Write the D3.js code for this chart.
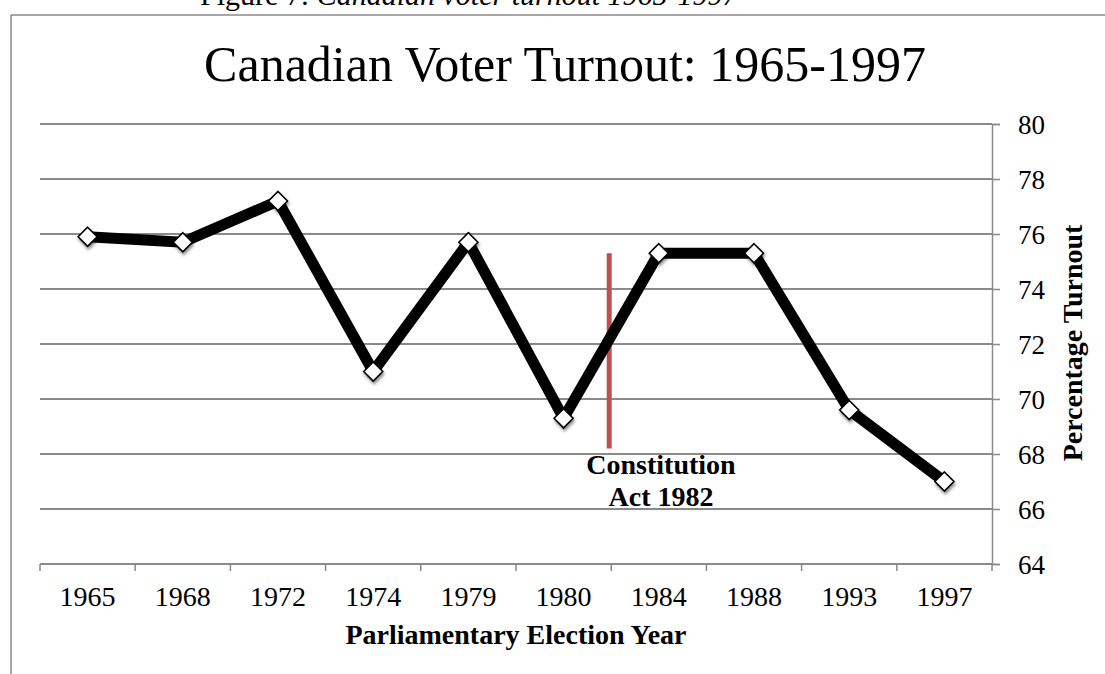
<!DOCTYPE html>
<html>
<head>
<meta charset="utf-8">
<script src="https://cdn.jsdelivr.net/npm/d3@7"></script>
<style>
  html, body { margin: 0; padding: 0; background: #fff; }
  svg { display: block; }
</style>
</head>
<body>
<svg id="chart" width="1105" height="674"></svg>
<script>
// ---- data ----
const years = ["1965", "1968", "1972", "1974", "1979", "1980", "1984", "1988", "1993", "1997"];
const turnout = [75.9, 75.7, 77.2, 71.0, 75.7, 69.3, 75.3, 75.3, 69.6, 67.0];
const yTicks = [64, 66, 68, 70, 72, 74, 76, 78, 80];
const annotationAfter = "1980";
const annotationRange = [68.2, 75.3];
const annotationLines = ["Constitution", "Act 1982"];
const chartTitle = "Canadian Voter Turnout: 1965-1997";
const xTitle = "Parliamentary Election Year";
const yTitle = "Percentage Turnout";

const svg = d3.select("#chart");
const serif = "'Liberation Serif', 'Times New Roman', serif";
const gridColor = "#8a8a8a";

const defs = svg.append("defs");
const f = defs.append("filter").attr("id", "shadow").attr("x", "-50%").attr("y", "-50%").attr("width", "200%").attr("height", "200%");
f.append("feDropShadow").attr("dx", 1).attr("dy", 2.5).attr("stdDeviation", 1.6).attr("flood-color", "#000").attr("flood-opacity", 0.45);

// frame & caption
svg.append("line").attr("x1", 11).attr("x2", 1105).attr("y1", 15).attr("y2", 15).attr("stroke", gridColor).attr("stroke-width", 1.5);
svg.append("line").attr("x1", 11).attr("x2", 11).attr("y1", 15).attr("y2", 674).attr("stroke", gridColor).attr("stroke-width", 1.5);
const cap = svg.append("text").attr("x", 200).attr("y", 5).attr("font-family", serif).attr("font-size", 30).attr("fill", "#000");
cap.append("tspan").text("Figure 7: ");
cap.append("tspan").attr("font-style", "italic").text("Canadian voter turnout 1965-1997");

// scales
const x = d3.scaleBand().domain(years).range([40, 992]).padding(0);
const y = d3.scaleLinear().domain([64, 80]).range([564, 124]);

// gridlines
svg.append("g").selectAll("line").data(yTicks).join("line")
  .attr("x1", 40).attr("x2", 992)
  .attr("y1", d => y(d)).attr("y2", d => y(d))
  .attr("stroke", gridColor).attr("stroke-width", 2);

// right axis
const yAxis = d3.axisRight(y).tickValues(yTicks).tickSize(8).tickPadding(18).tickFormat(d3.format("d"));
const gy = svg.append("g").attr("transform", "translate(992,0)").call(yAxis);
gy.select(".domain").attr("stroke", gridColor).attr("stroke-width", 1.5);
gy.selectAll(".tick line").attr("stroke", gridColor).attr("stroke-width", 1.5);
gy.selectAll(".tick text").attr("font-family", serif).attr("font-size", 27).attr("fill", "#000").attr("dy", "0.34em");

// bottom axis: ticks at band boundaries
const boundaries = years.map(d => x(d)).concat([x.range()[1]]);
svg.append("line").attr("x1", 40).attr("x2", 992).attr("y1", y(64)).attr("y2", y(64)).attr("stroke", gridColor).attr("stroke-width", 2);
svg.append("g").selectAll("line").data(boundaries).join("line")
  .attr("x1", d => d).attr("x2", d => d)
  .attr("y1", y(64)).attr("y2", y(64) + 7)
  .attr("stroke", gridColor).attr("stroke-width", 1.5);
svg.append("g").selectAll("text").data(years).join("text")
  .attr("x", d => x(d) + x.bandwidth() / 2)
  .attr("y", y(64) + 42)
  .attr("text-anchor", "middle")
  .attr("font-family", serif).attr("font-size", 28).attr("fill", "#000")
  .text(d => d);

// titles
svg.append("text").attr("x", 565).attr("y", 81).attr("text-anchor", "middle")
  .attr("font-family", serif).attr("font-size", 50).attr("fill", "#000").text(chartTitle);
svg.append("text").attr("x", 516).attr("y", 644).attr("text-anchor", "middle")
  .attr("font-family", serif).attr("font-weight", "bold").attr("font-size", 28).attr("fill", "#000").text(xTitle);
svg.append("text").attr("transform", "translate(1082,343) rotate(-90)").attr("text-anchor", "middle")
  .attr("font-family", serif).attr("font-weight", "bold").attr("font-size", 28).attr("fill", "#000").text(yTitle);

// annotation line
const ax = x(annotationAfter) + x.bandwidth() - 2;
svg.append("line").attr("x1", ax).attr("x2", ax)
  .attr("y1", y(annotationRange[1])).attr("y2", y(annotationRange[0]))
  .attr("stroke", "#c0504d").attr("stroke-width", 5);

// data line
const pts = years.map((d, i) => [x(d) + x.bandwidth() / 2, y(turnout[i])]);
svg.append("path").datum(pts)
  .attr("d", d3.line())
  .attr("fill", "none").attr("stroke", "#000").attr("stroke-width", 11)
  .attr("stroke-linejoin", "miter");

// markers
svg.append("g").selectAll("path").data(pts).join("path")
  .attr("transform", d => `translate(${d[0]},${d[1]})`)
  .attr("d", "M0,-9.5L9.5,0L0,9.5L-9.5,0Z")
  .attr("fill", "#fff").attr("stroke", "#000").attr("stroke-width", 1.6)
  .attr("filter", "url(#shadow)");

// annotation text
const at = svg.append("text").attr("text-anchor", "middle")
  .attr("font-family", serif).attr("font-weight", "bold").attr("font-size", 28).attr("fill", "#000");
annotationLines.forEach((t, i) => {
  at.append("tspan").attr("x", 661).attr("y", 474 + i * 32).text(t);
});
</script>
</body>
</html>
